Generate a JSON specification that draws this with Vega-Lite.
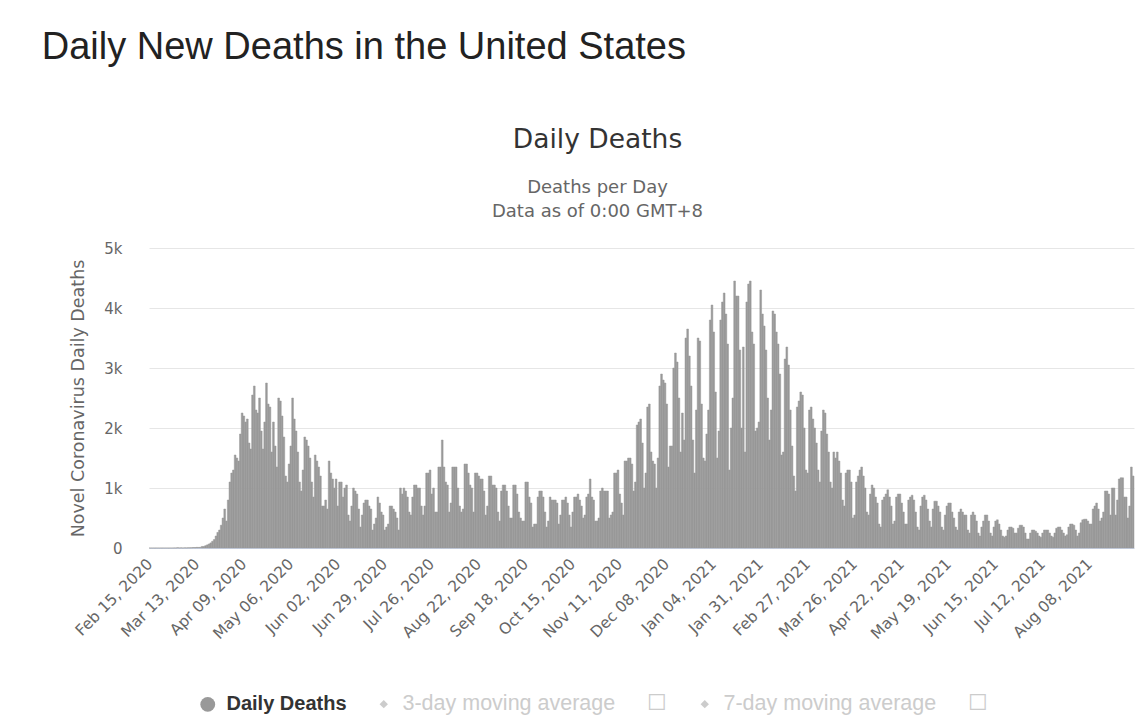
{
"$schema": "https://vega.github.io/schema/vega-lite/v6.json",
"background": "white",
"padding": {"left": 41, "top": 28, "right": 8, "bottom": 4},
"title": {"text": "Daily New Deaths in the United States", "anchor": "start", "dx": -28, "font": "Liberation Sans", "fontSize": 38, "fontWeight": "normal", "color": "#222222", "offset": 60},
"vconcat": [{
"width": 985,
"height": 300,
"title": {"text": "Daily Deaths", "subtitle": ["Deaths per Day", "Data as of 0:00 GMT+8"], "anchor": "middle", "dx": -44, "font": "DejaVu Sans", "fontSize": 26.5, "fontWeight": "normal", "color": "#333333", "subtitleFont": "DejaVu Sans", "subtitleFontSize": 18, "subtitleColor": "#666666", "subtitlePadding": 26, "subtitleLineHeight": 24, "offset": 20},
"data": {"values": [
{"d":"Feb 15, 2020","v":0},{"d":"Feb 16, 2020","v":0},{"d":"Feb 17, 2020","v":0},{"d":"Feb 18, 2020","v":0},{"d":"Feb 19, 2020","v":0},{"d":"Feb 20, 2020","v":0},{"d":"Feb 21, 2020","v":0},{"d":"Feb 22, 2020","v":0},{"d":"Feb 23, 2020","v":0},{"d":"Feb 24, 2020","v":0},{"d":"Feb 25, 2020","v":0},{"d":"Feb 26, 2020","v":0},{"d":"Feb 27, 2020","v":0},{"d":"Feb 28, 2020","v":0},{"d":"Feb 29, 2020","v":1},
{"d":"Mar 01, 2020","v":1},{"d":"Mar 02, 2020","v":5},{"d":"Mar 03, 2020","v":1},{"d":"Mar 04, 2020","v":3},{"d":"Mar 05, 2020","v":1},{"d":"Mar 06, 2020","v":3},{"d":"Mar 07, 2020","v":2},{"d":"Mar 08, 2020","v":4},{"d":"Mar 09, 2020","v":4},{"d":"Mar 10, 2020","v":5},{"d":"Mar 11, 2020","v":8},{"d":"Mar 12, 2020","v":7},{"d":"Mar 13, 2020","v":11},{"d":"Mar 14, 2020","v":10},{"d":"Mar 15, 2020","v":11},{"d":"Mar 16, 2020","v":26},{"d":"Mar 17, 2020","v":26},{"d":"Mar 18, 2020","v":39},{"d":"Mar 19, 2020","v":52},{"d":"Mar 20, 2020","v":67},{"d":"Mar 21, 2020","v":85},{"d":"Mar 22, 2020","v":112},{"d":"Mar 23, 2020","v":141},{"d":"Mar 24, 2020","v":200},{"d":"Mar 25, 2020","v":260},{"d":"Mar 26, 2020","v":300},{"d":"Mar 27, 2020","v":380},{"d":"Mar 28, 2020","v":500},{"d":"Mar 29, 2020","v":650},{"d":"Mar 30, 2020","v":450},{"d":"Mar 31, 2020","v":800},
{"d":"Apr 01, 2020","v":1100},{"d":"Apr 02, 2020","v":1250},{"d":"Apr 03, 2020","v":1300},{"d":"Apr 04, 2020","v":1550},{"d":"Apr 05, 2020","v":1500},{"d":"Apr 06, 2020","v":1450},{"d":"Apr 07, 2020","v":1900},{"d":"Apr 08, 2020","v":2250},{"d":"Apr 09, 2020","v":2200},{"d":"Apr 10, 2020","v":2100},{"d":"Apr 11, 2020","v":2150},{"d":"Apr 12, 2020","v":1750},{"d":"Apr 13, 2020","v":1650},{"d":"Apr 14, 2020","v":2550},{"d":"Apr 15, 2020","v":2700},{"d":"Apr 16, 2020","v":2300},{"d":"Apr 17, 2020","v":2250},{"d":"Apr 18, 2020","v":2500},{"d":"Apr 19, 2020","v":1950},{"d":"Apr 20, 2020","v":1650},{"d":"Apr 21, 2020","v":2100},{"d":"Apr 22, 2020","v":2750},{"d":"Apr 23, 2020","v":2400},{"d":"Apr 24, 2020","v":2350},{"d":"Apr 25, 2020","v":1600},{"d":"Apr 26, 2020","v":2100},{"d":"Apr 27, 2020","v":1700},{"d":"Apr 28, 2020","v":1350},{"d":"Apr 29, 2020","v":2500},{"d":"Apr 30, 2020","v":2450},
{"d":"May 01, 2020","v":2200},{"d":"May 02, 2020","v":1850},{"d":"May 03, 2020","v":1200},{"d":"May 04, 2020","v":1100},{"d":"May 05, 2020","v":1400},{"d":"May 06, 2020","v":1700},{"d":"May 07, 2020","v":2500},{"d":"May 08, 2020","v":2150},{"d":"May 09, 2020","v":1950},{"d":"May 10, 2020","v":1600},{"d":"May 11, 2020","v":1100},{"d":"May 12, 2020","v":950},{"d":"May 13, 2020","v":1300},{"d":"May 14, 2020","v":1850},{"d":"May 15, 2020","v":1800},{"d":"May 16, 2020","v":1700},{"d":"May 17, 2020","v":1500},{"d":"May 18, 2020","v":1100},{"d":"May 19, 2020","v":850},{"d":"May 20, 2020","v":1550},{"d":"May 21, 2020","v":1450},{"d":"May 22, 2020","v":1350},{"d":"May 23, 2020","v":1200},{"d":"May 24, 2020","v":700},{"d":"May 25, 2020","v":700},{"d":"May 26, 2020","v":800},{"d":"May 27, 2020","v":650},{"d":"May 28, 2020","v":1450},{"d":"May 29, 2020","v":1250},{"d":"May 30, 2020","v":1150},{"d":"May 31, 2020","v":1000},
{"d":"Jun 01, 2020","v":1150},{"d":"Jun 02, 2020","v":700},{"d":"Jun 03, 2020","v":1100},{"d":"Jun 04, 2020","v":1100},{"d":"Jun 05, 2020","v":850},{"d":"Jun 06, 2020","v":1000},{"d":"Jun 07, 2020","v":1050},{"d":"Jun 08, 2020","v":550},{"d":"Jun 09, 2020","v":450},{"d":"Jun 10, 2020","v":700},{"d":"Jun 11, 2020","v":1000},{"d":"Jun 12, 2020","v":950},{"d":"Jun 13, 2020","v":900},{"d":"Jun 14, 2020","v":650},{"d":"Jun 15, 2020","v":350},{"d":"Jun 16, 2020","v":550},{"d":"Jun 17, 2020","v":750},{"d":"Jun 18, 2020","v":800},{"d":"Jun 19, 2020","v":800},{"d":"Jun 20, 2020","v":700},{"d":"Jun 21, 2020","v":650},{"d":"Jun 22, 2020","v":300},{"d":"Jun 23, 2020","v":400},{"d":"Jun 24, 2020","v":500},{"d":"Jun 25, 2020","v":850},{"d":"Jun 26, 2020","v":750},{"d":"Jun 27, 2020","v":600},{"d":"Jun 28, 2020","v":550},{"d":"Jun 29, 2020","v":300},{"d":"Jun 30, 2020","v":350},
{"d":"Jul 01, 2020","v":400},{"d":"Jul 02, 2020","v":700},{"d":"Jul 03, 2020","v":700},{"d":"Jul 04, 2020","v":650},{"d":"Jul 05, 2020","v":600},{"d":"Jul 06, 2020","v":500},{"d":"Jul 07, 2020","v":300},{"d":"Jul 08, 2020","v":1000},{"d":"Jul 09, 2020","v":900},{"d":"Jul 10, 2020","v":1000},{"d":"Jul 11, 2020","v":950},{"d":"Jul 12, 2020","v":850},{"d":"Jul 13, 2020","v":600},{"d":"Jul 14, 2020","v":550},{"d":"Jul 15, 2020","v":850},{"d":"Jul 16, 2020","v":1050},{"d":"Jul 17, 2020","v":1050},{"d":"Jul 18, 2020","v":1000},{"d":"Jul 19, 2020","v":1000},{"d":"Jul 20, 2020","v":700},{"d":"Jul 21, 2020","v":550},{"d":"Jul 22, 2020","v":700},{"d":"Jul 23, 2020","v":1250},{"d":"Jul 24, 2020","v":1250},{"d":"Jul 25, 2020","v":1300},{"d":"Jul 26, 2020","v":900},{"d":"Jul 27, 2020","v":1000},{"d":"Jul 28, 2020","v":600},{"d":"Jul 29, 2020","v":600},{"d":"Jul 30, 2020","v":1350},{"d":"Jul 31, 2020","v":1350},
{"d":"Aug 01, 2020","v":1800},{"d":"Aug 02, 2020","v":1350},{"d":"Aug 03, 2020","v":1100},{"d":"Aug 04, 2020","v":1050},{"d":"Aug 05, 2020","v":600},{"d":"Aug 06, 2020","v":750},{"d":"Aug 07, 2020","v":1350},{"d":"Aug 08, 2020","v":1350},{"d":"Aug 09, 2020","v":1350},{"d":"Aug 10, 2020","v":1000},{"d":"Aug 11, 2020","v":700},{"d":"Aug 12, 2020","v":600},{"d":"Aug 13, 2020","v":650},{"d":"Aug 14, 2020","v":1400},{"d":"Aug 15, 2020","v":1400},{"d":"Aug 16, 2020","v":1250},{"d":"Aug 17, 2020","v":1050},{"d":"Aug 18, 2020","v":1000},{"d":"Aug 19, 2020","v":600},{"d":"Aug 20, 2020","v":1250},{"d":"Aug 21, 2020","v":1250},{"d":"Aug 22, 2020","v":1200},{"d":"Aug 23, 2020","v":1150},{"d":"Aug 24, 2020","v":1150},{"d":"Aug 25, 2020","v":950},{"d":"Aug 26, 2020","v":550},{"d":"Aug 27, 2020","v":700},{"d":"Aug 28, 2020","v":1200},{"d":"Aug 29, 2020","v":1200},{"d":"Aug 30, 2020","v":1050},{"d":"Aug 31, 2020","v":1050},
{"d":"Sep 01, 2020","v":1000},{"d":"Sep 02, 2020","v":600},{"d":"Sep 03, 2020","v":450},{"d":"Sep 04, 2020","v":950},{"d":"Sep 05, 2020","v":1050},{"d":"Sep 06, 2020","v":1050},{"d":"Sep 07, 2020","v":950},{"d":"Sep 08, 2020","v":700},{"d":"Sep 09, 2020","v":500},{"d":"Sep 10, 2020","v":500},{"d":"Sep 11, 2020","v":1050},{"d":"Sep 12, 2020","v":1050},{"d":"Sep 13, 2020","v":900},{"d":"Sep 14, 2020","v":600},{"d":"Sep 15, 2020","v":500},{"d":"Sep 16, 2020","v":450},{"d":"Sep 17, 2020","v":450},{"d":"Sep 18, 2020","v":1100},{"d":"Sep 19, 2020","v":1100},{"d":"Sep 20, 2020","v":850},{"d":"Sep 21, 2020","v":750},{"d":"Sep 22, 2020","v":350},{"d":"Sep 23, 2020","v":400},{"d":"Sep 24, 2020","v":400},{"d":"Sep 25, 2020","v":850},{"d":"Sep 26, 2020","v":950},{"d":"Sep 27, 2020","v":950},{"d":"Sep 28, 2020","v":850},{"d":"Sep 29, 2020","v":600},{"d":"Sep 30, 2020","v":350},
{"d":"Oct 01, 2020","v":450},{"d":"Oct 02, 2020","v":850},{"d":"Oct 03, 2020","v":800},{"d":"Oct 04, 2020","v":800},{"d":"Oct 05, 2020","v":800},{"d":"Oct 06, 2020","v":750},{"d":"Oct 07, 2020","v":400},{"d":"Oct 08, 2020","v":550},{"d":"Oct 09, 2020","v":800},{"d":"Oct 10, 2020","v":800},{"d":"Oct 11, 2020","v":850},{"d":"Oct 12, 2020","v":750},{"d":"Oct 13, 2020","v":550},{"d":"Oct 14, 2020","v":350},{"d":"Oct 15, 2020","v":600},{"d":"Oct 16, 2020","v":850},{"d":"Oct 17, 2020","v":850},{"d":"Oct 18, 2020","v":900},{"d":"Oct 19, 2020","v":800},{"d":"Oct 20, 2020","v":700},{"d":"Oct 21, 2020","v":500},{"d":"Oct 22, 2020","v":550},{"d":"Oct 23, 2020","v":850},{"d":"Oct 24, 2020","v":900},{"d":"Oct 25, 2020","v":1150},{"d":"Oct 26, 2020","v":850},{"d":"Oct 27, 2020","v":800},{"d":"Oct 28, 2020","v":450},{"d":"Oct 29, 2020","v":450},{"d":"Oct 30, 2020","v":500},{"d":"Oct 31, 2020","v":950},
{"d":"Nov 01, 2020","v":1000},{"d":"Nov 02, 2020","v":950},{"d":"Nov 03, 2020","v":950},{"d":"Nov 04, 2020","v":950},{"d":"Nov 05, 2020","v":500},{"d":"Nov 06, 2020","v":550},{"d":"Nov 07, 2020","v":600},{"d":"Nov 08, 2020","v":1250},{"d":"Nov 09, 2020","v":1250},{"d":"Nov 10, 2020","v":1300},{"d":"Nov 11, 2020","v":900},{"d":"Nov 12, 2020","v":750},{"d":"Nov 13, 2020","v":550},{"d":"Nov 14, 2020","v":1450},{"d":"Nov 15, 2020","v":1450},{"d":"Nov 16, 2020","v":1500},{"d":"Nov 17, 2020","v":1500},{"d":"Nov 18, 2020","v":1400},{"d":"Nov 19, 2020","v":950},{"d":"Nov 20, 2020","v":1100},{"d":"Nov 21, 2020","v":2050},{"d":"Nov 22, 2020","v":2100},{"d":"Nov 23, 2020","v":2150},{"d":"Nov 24, 2020","v":1750},{"d":"Nov 25, 2020","v":1000},{"d":"Nov 26, 2020","v":1250},{"d":"Nov 27, 2020","v":2350},{"d":"Nov 28, 2020","v":2400},{"d":"Nov 29, 2020","v":1600},{"d":"Nov 30, 2020","v":1450},
{"d":"Dec 01, 2020","v":1400},{"d":"Dec 02, 2020","v":1000},{"d":"Dec 03, 2020","v":1500},{"d":"Dec 04, 2020","v":2700},{"d":"Dec 05, 2020","v":2900},{"d":"Dec 06, 2020","v":2800},{"d":"Dec 07, 2020","v":2750},{"d":"Dec 08, 2020","v":2400},{"d":"Dec 09, 2020","v":1350},{"d":"Dec 10, 2020","v":1700},{"d":"Dec 11, 2020","v":1700},{"d":"Dec 12, 2020","v":3000},{"d":"Dec 13, 2020","v":3250},{"d":"Dec 14, 2020","v":3100},{"d":"Dec 15, 2020","v":2500},{"d":"Dec 16, 2020","v":1600},{"d":"Dec 17, 2020","v":2250},{"d":"Dec 18, 2020","v":1800},{"d":"Dec 19, 2020","v":3500},{"d":"Dec 20, 2020","v":3650},{"d":"Dec 21, 2020","v":3200},{"d":"Dec 22, 2020","v":2700},{"d":"Dec 23, 2020","v":1800},{"d":"Dec 24, 2020","v":1250},{"d":"Dec 25, 2020","v":2300},{"d":"Dec 26, 2020","v":3500},{"d":"Dec 27, 2020","v":3450},{"d":"Dec 28, 2020","v":2400},{"d":"Dec 29, 2020","v":1500},{"d":"Dec 30, 2020","v":1450},{"d":"Dec 31, 2020","v":1900},
{"d":"Jan 01, 2021","v":2300},{"d":"Jan 02, 2021","v":3800},{"d":"Jan 03, 2021","v":4050},{"d":"Jan 04, 2021","v":3600},{"d":"Jan 05, 2021","v":2600},{"d":"Jan 06, 2021","v":1500},{"d":"Jan 07, 2021","v":1950},{"d":"Jan 08, 2021","v":3800},{"d":"Jan 09, 2021","v":4100},{"d":"Jan 10, 2021","v":4250},{"d":"Jan 11, 2021","v":3900},{"d":"Jan 12, 2021","v":3400},{"d":"Jan 13, 2021","v":1300},{"d":"Jan 14, 2021","v":2000},{"d":"Jan 15, 2021","v":2500},{"d":"Jan 16, 2021","v":4450},{"d":"Jan 17, 2021","v":4200},{"d":"Jan 18, 2021","v":4200},{"d":"Jan 19, 2021","v":3300},{"d":"Jan 20, 2021","v":2000},{"d":"Jan 21, 2021","v":3350},{"d":"Jan 22, 2021","v":1600},{"d":"Jan 23, 2021","v":4100},{"d":"Jan 24, 2021","v":4400},{"d":"Jan 25, 2021","v":4450},{"d":"Jan 26, 2021","v":3600},{"d":"Jan 27, 2021","v":3400},{"d":"Jan 28, 2021","v":1950},{"d":"Jan 29, 2021","v":2000},{"d":"Jan 30, 2021","v":2100},{"d":"Jan 31, 2021","v":4300},
{"d":"Feb 01, 2021","v":3900},{"d":"Feb 02, 2021","v":3700},{"d":"Feb 03, 2021","v":3300},{"d":"Feb 04, 2021","v":2500},{"d":"Feb 05, 2021","v":1800},{"d":"Feb 06, 2021","v":2300},{"d":"Feb 07, 2021","v":3950},{"d":"Feb 08, 2021","v":3900},{"d":"Feb 09, 2021","v":3600},{"d":"Feb 10, 2021","v":3400},{"d":"Feb 11, 2021","v":2900},{"d":"Feb 12, 2021","v":1550},{"d":"Feb 13, 2021","v":1600},{"d":"Feb 14, 2021","v":3150},{"d":"Feb 15, 2021","v":3350},{"d":"Feb 16, 2021","v":3050},{"d":"Feb 17, 2021","v":2300},{"d":"Feb 18, 2021","v":1700},{"d":"Feb 19, 2021","v":1200},{"d":"Feb 20, 2021","v":950},{"d":"Feb 21, 2021","v":2350},{"d":"Feb 22, 2021","v":2450},{"d":"Feb 23, 2021","v":2600},{"d":"Feb 24, 2021","v":2550},{"d":"Feb 25, 2021","v":2000},{"d":"Feb 26, 2021","v":1300},{"d":"Feb 27, 2021","v":1250},{"d":"Feb 28, 2021","v":2300},
{"d":"Mar 01, 2021","v":2350},{"d":"Mar 02, 2021","v":2150},{"d":"Mar 03, 2021","v":2000},{"d":"Mar 04, 2021","v":1750},{"d":"Mar 05, 2021","v":1300},{"d":"Mar 06, 2021","v":1100},{"d":"Mar 07, 2021","v":1950},{"d":"Mar 08, 2021","v":2300},{"d":"Mar 09, 2021","v":2250},{"d":"Mar 10, 2021","v":1900},{"d":"Mar 11, 2021","v":1600},{"d":"Mar 12, 2021","v":1100},{"d":"Mar 13, 2021","v":1000},{"d":"Mar 14, 2021","v":1600},{"d":"Mar 15, 2021","v":1500},{"d":"Mar 16, 2021","v":1600},{"d":"Mar 17, 2021","v":1450},{"d":"Mar 18, 2021","v":1250},{"d":"Mar 19, 2021","v":800},{"d":"Mar 20, 2021","v":700},{"d":"Mar 21, 2021","v":1250},{"d":"Mar 22, 2021","v":1300},{"d":"Mar 23, 2021","v":1300},{"d":"Mar 24, 2021","v":1100},{"d":"Mar 25, 2021","v":500},{"d":"Mar 26, 2021","v":550},{"d":"Mar 27, 2021","v":1100},{"d":"Mar 28, 2021","v":1200},{"d":"Mar 29, 2021","v":1300},{"d":"Mar 30, 2021","v":1350},{"d":"Mar 31, 2021","v":1200},
{"d":"Apr 01, 2021","v":1000},{"d":"Apr 02, 2021","v":600},{"d":"Apr 03, 2021","v":550},{"d":"Apr 04, 2021","v":900},{"d":"Apr 05, 2021","v":1050},{"d":"Apr 06, 2021","v":1000},{"d":"Apr 07, 2021","v":850},{"d":"Apr 08, 2021","v":750},{"d":"Apr 09, 2021","v":400},{"d":"Apr 10, 2021","v":350},{"d":"Apr 11, 2021","v":800},{"d":"Apr 12, 2021","v":850},{"d":"Apr 13, 2021","v":900},{"d":"Apr 14, 2021","v":970},{"d":"Apr 15, 2021","v":850},{"d":"Apr 16, 2021","v":700},{"d":"Apr 17, 2021","v":400},{"d":"Apr 18, 2021","v":450},{"d":"Apr 19, 2021","v":850},{"d":"Apr 20, 2021","v":900},{"d":"Apr 21, 2021","v":900},{"d":"Apr 22, 2021","v":750},{"d":"Apr 23, 2021","v":600},{"d":"Apr 24, 2021","v":400},{"d":"Apr 25, 2021","v":400},{"d":"Apr 26, 2021","v":800},{"d":"Apr 27, 2021","v":850},{"d":"Apr 28, 2021","v":880},{"d":"Apr 29, 2021","v":800},{"d":"Apr 30, 2021","v":600},
{"d":"May 01, 2021","v":350},{"d":"May 02, 2021","v":300},{"d":"May 03, 2021","v":700},{"d":"May 04, 2021","v":850},{"d":"May 05, 2021","v":880},{"d":"May 06, 2021","v":800},{"d":"May 07, 2021","v":650},{"d":"May 08, 2021","v":450},{"d":"May 09, 2021","v":350},{"d":"May 10, 2021","v":650},{"d":"May 11, 2021","v":780},{"d":"May 12, 2021","v":780},{"d":"May 13, 2021","v":700},{"d":"May 14, 2021","v":600},{"d":"May 15, 2021","v":350},{"d":"May 16, 2021","v":300},{"d":"May 17, 2021","v":550},{"d":"May 18, 2021","v":700},{"d":"May 19, 2021","v":750},{"d":"May 20, 2021","v":750},{"d":"May 21, 2021","v":600},{"d":"May 22, 2021","v":500},{"d":"May 23, 2021","v":350},{"d":"May 24, 2021","v":300},{"d":"May 25, 2021","v":600},{"d":"May 26, 2021","v":650},{"d":"May 27, 2021","v":600},{"d":"May 28, 2021","v":550},{"d":"May 29, 2021","v":550},{"d":"May 30, 2021","v":300},{"d":"May 31, 2021","v":250},
{"d":"Jun 01, 2021","v":550},{"d":"Jun 02, 2021","v":600},{"d":"Jun 03, 2021","v":550},{"d":"Jun 04, 2021","v":450},{"d":"Jun 05, 2021","v":250},{"d":"Jun 06, 2021","v":200},{"d":"Jun 07, 2021","v":350},{"d":"Jun 08, 2021","v":450},{"d":"Jun 09, 2021","v":550},{"d":"Jun 10, 2021","v":550},{"d":"Jun 11, 2021","v":450},{"d":"Jun 12, 2021","v":250},{"d":"Jun 13, 2021","v":200},{"d":"Jun 14, 2021","v":350},{"d":"Jun 15, 2021","v":450},{"d":"Jun 16, 2021","v":470},{"d":"Jun 17, 2021","v":400},{"d":"Jun 18, 2021","v":300},{"d":"Jun 19, 2021","v":200},{"d":"Jun 20, 2021","v":180},{"d":"Jun 21, 2021","v":200},{"d":"Jun 22, 2021","v":300},{"d":"Jun 23, 2021","v":350},{"d":"Jun 24, 2021","v":350},{"d":"Jun 25, 2021","v":330},{"d":"Jun 26, 2021","v":250},{"d":"Jun 27, 2021","v":250},{"d":"Jun 28, 2021","v":330},{"d":"Jun 29, 2021","v":380},{"d":"Jun 30, 2021","v":380},
{"d":"Jul 01, 2021","v":350},{"d":"Jul 02, 2021","v":250},{"d":"Jul 03, 2021","v":150},{"d":"Jul 04, 2021","v":150},{"d":"Jul 05, 2021","v":250},{"d":"Jul 06, 2021","v":300},{"d":"Jul 07, 2021","v":300},{"d":"Jul 08, 2021","v":280},{"d":"Jul 09, 2021","v":250},{"d":"Jul 10, 2021","v":200},{"d":"Jul 11, 2021","v":180},{"d":"Jul 12, 2021","v":250},{"d":"Jul 13, 2021","v":300},{"d":"Jul 14, 2021","v":300},{"d":"Jul 15, 2021","v":300},{"d":"Jul 16, 2021","v":250},{"d":"Jul 17, 2021","v":200},{"d":"Jul 18, 2021","v":180},{"d":"Jul 19, 2021","v":250},{"d":"Jul 20, 2021","v":330},{"d":"Jul 21, 2021","v":350},{"d":"Jul 22, 2021","v":350},{"d":"Jul 23, 2021","v":300},{"d":"Jul 24, 2021","v":250},{"d":"Jul 25, 2021","v":200},{"d":"Jul 26, 2021","v":220},{"d":"Jul 27, 2021","v":350},{"d":"Jul 28, 2021","v":400},{"d":"Jul 29, 2021","v":400},{"d":"Jul 30, 2021","v":380},{"d":"Jul 31, 2021","v":300},
{"d":"Aug 01, 2021","v":200},{"d":"Aug 02, 2021","v":250},{"d":"Aug 03, 2021","v":420},{"d":"Aug 04, 2021","v":470},{"d":"Aug 05, 2021","v":480},{"d":"Aug 06, 2021","v":480},{"d":"Aug 07, 2021","v":450},{"d":"Aug 08, 2021","v":400},{"d":"Aug 09, 2021","v":400},{"d":"Aug 10, 2021","v":650},{"d":"Aug 11, 2021","v":700},{"d":"Aug 12, 2021","v":750},{"d":"Aug 13, 2021","v":650},{"d":"Aug 14, 2021","v":450},{"d":"Aug 15, 2021","v":500},{"d":"Aug 16, 2021","v":600},{"d":"Aug 17, 2021","v":950},{"d":"Aug 18, 2021","v":950},{"d":"Aug 19, 2021","v":900},{"d":"Aug 20, 2021","v":550},{"d":"Aug 21, 2021","v":1000},{"d":"Aug 22, 2021","v":1000},{"d":"Aug 23, 2021","v":550},{"d":"Aug 24, 2021","v":800},{"d":"Aug 25, 2021","v":1150},{"d":"Aug 26, 2021","v":1170},{"d":"Aug 27, 2021","v":1170},{"d":"Aug 28, 2021","v":850},{"d":"Aug 29, 2021","v":850},{"d":"Aug 30, 2021","v":500},{"d":"Aug 31, 2021","v":700},
{"d":"Sep 01, 2021","v":1350},{"d":"Sep 02, 2021","v":1200}
]},
"mark": {"type": "bar", "stroke": "#999999", "strokeWidth": 0.5},
"encoding": {
"x": {"field": "d", "type": "ordinal", "sort": null, "title": null,
"scale": {"paddingInner": 0, "paddingOuter": 0},
"axis": {"values": ["Feb 15, 2020","Mar 13, 2020","Apr 09, 2020","May 06, 2020","Jun 02, 2020","Jun 29, 2020","Jul 26, 2020","Aug 22, 2020","Sep 18, 2020","Oct 15, 2020","Nov 11, 2020","Dec 08, 2020","Jan 04, 2021","Jan 31, 2021","Feb 27, 2021","Mar 26, 2021","Apr 22, 2021","May 19, 2021","Jun 15, 2021","Jul 12, 2021","Aug 08, 2021"],
"labelAngle": -45, "labelAlign": "right", "labelBaseline": "middle", "labelFont": "DejaVu Sans", "labelFontSize": 15.5, "labelColor": "#666666", "labelPadding": 13, "labelOverlap": false, "ticks": false, "grid": false, "domainColor": "#ccd6eb", "domainWidth": 1}},
"y": {"field": "v", "type": "quantitative",
"scale": {"domain": [0, 5000], "nice": false},
"axis": {"values": [0, 1000, 2000, 3000, 4000, 5000], "labelExpr": "datum.value == 0 ? '0' : (datum.value / 1000) + 'k'", "title": "Novel Coronavirus Daily Deaths", "titleFont": "DejaVu Sans", "titleFontSize": 17.5, "titleFontWeight": "normal", "titleColor": "#666666", "titlePadding": 16, "labelFont": "DejaVu Sans", "labelFontSize": 15, "labelColor": "#666666", "labelPadding": 27, "ticks": false, "domain": false, "gridColor": "#e6e6e6", "gridWidth": 1}},
"color": {"datum": "Daily Deaths", "type": "nominal",
"scale": {"domain": ["Daily Deaths", "3-day moving average", "7-day moving average"], "range": ["#999999", "#cccccc", "#cccccc"]},
"legend": {"title": null, "orient": "none", "legendX": 48, "legendY": 445, "direction": "horizontal", "padding": 0,
"symbolType": {"expr": "datum.value == 'Daily Deaths' ? 'circle' : 'diamond'"},
"symbolSize": {"expr": "datum.value == 'Daily Deaths' ? 220 : 70"},
"symbolStrokeWidth": 0,
"labelExpr": "datum.value == 'Daily Deaths' ? datum.label : datum.label + '\u2800\u2800\u2610'",
"labelFont": "Liberation Sans",
"labelFontSize": {"expr": "datum.value == 'Daily Deaths' ? 20 : 21.5"},
"labelColor": {"expr": "datum.value == 'Daily Deaths' ? '#333333' : '#cccccc'"},
"labelFontWeight": {"expr": "datum.value == 'Daily Deaths' ? 'bold' : 'normal'"},
"labelOffset": 8, "columnPadding": 26, "labelLimit": 400}}
}
}],
"config": {"view": {"stroke": null}, "concat": {"spacing": 0}}
}
